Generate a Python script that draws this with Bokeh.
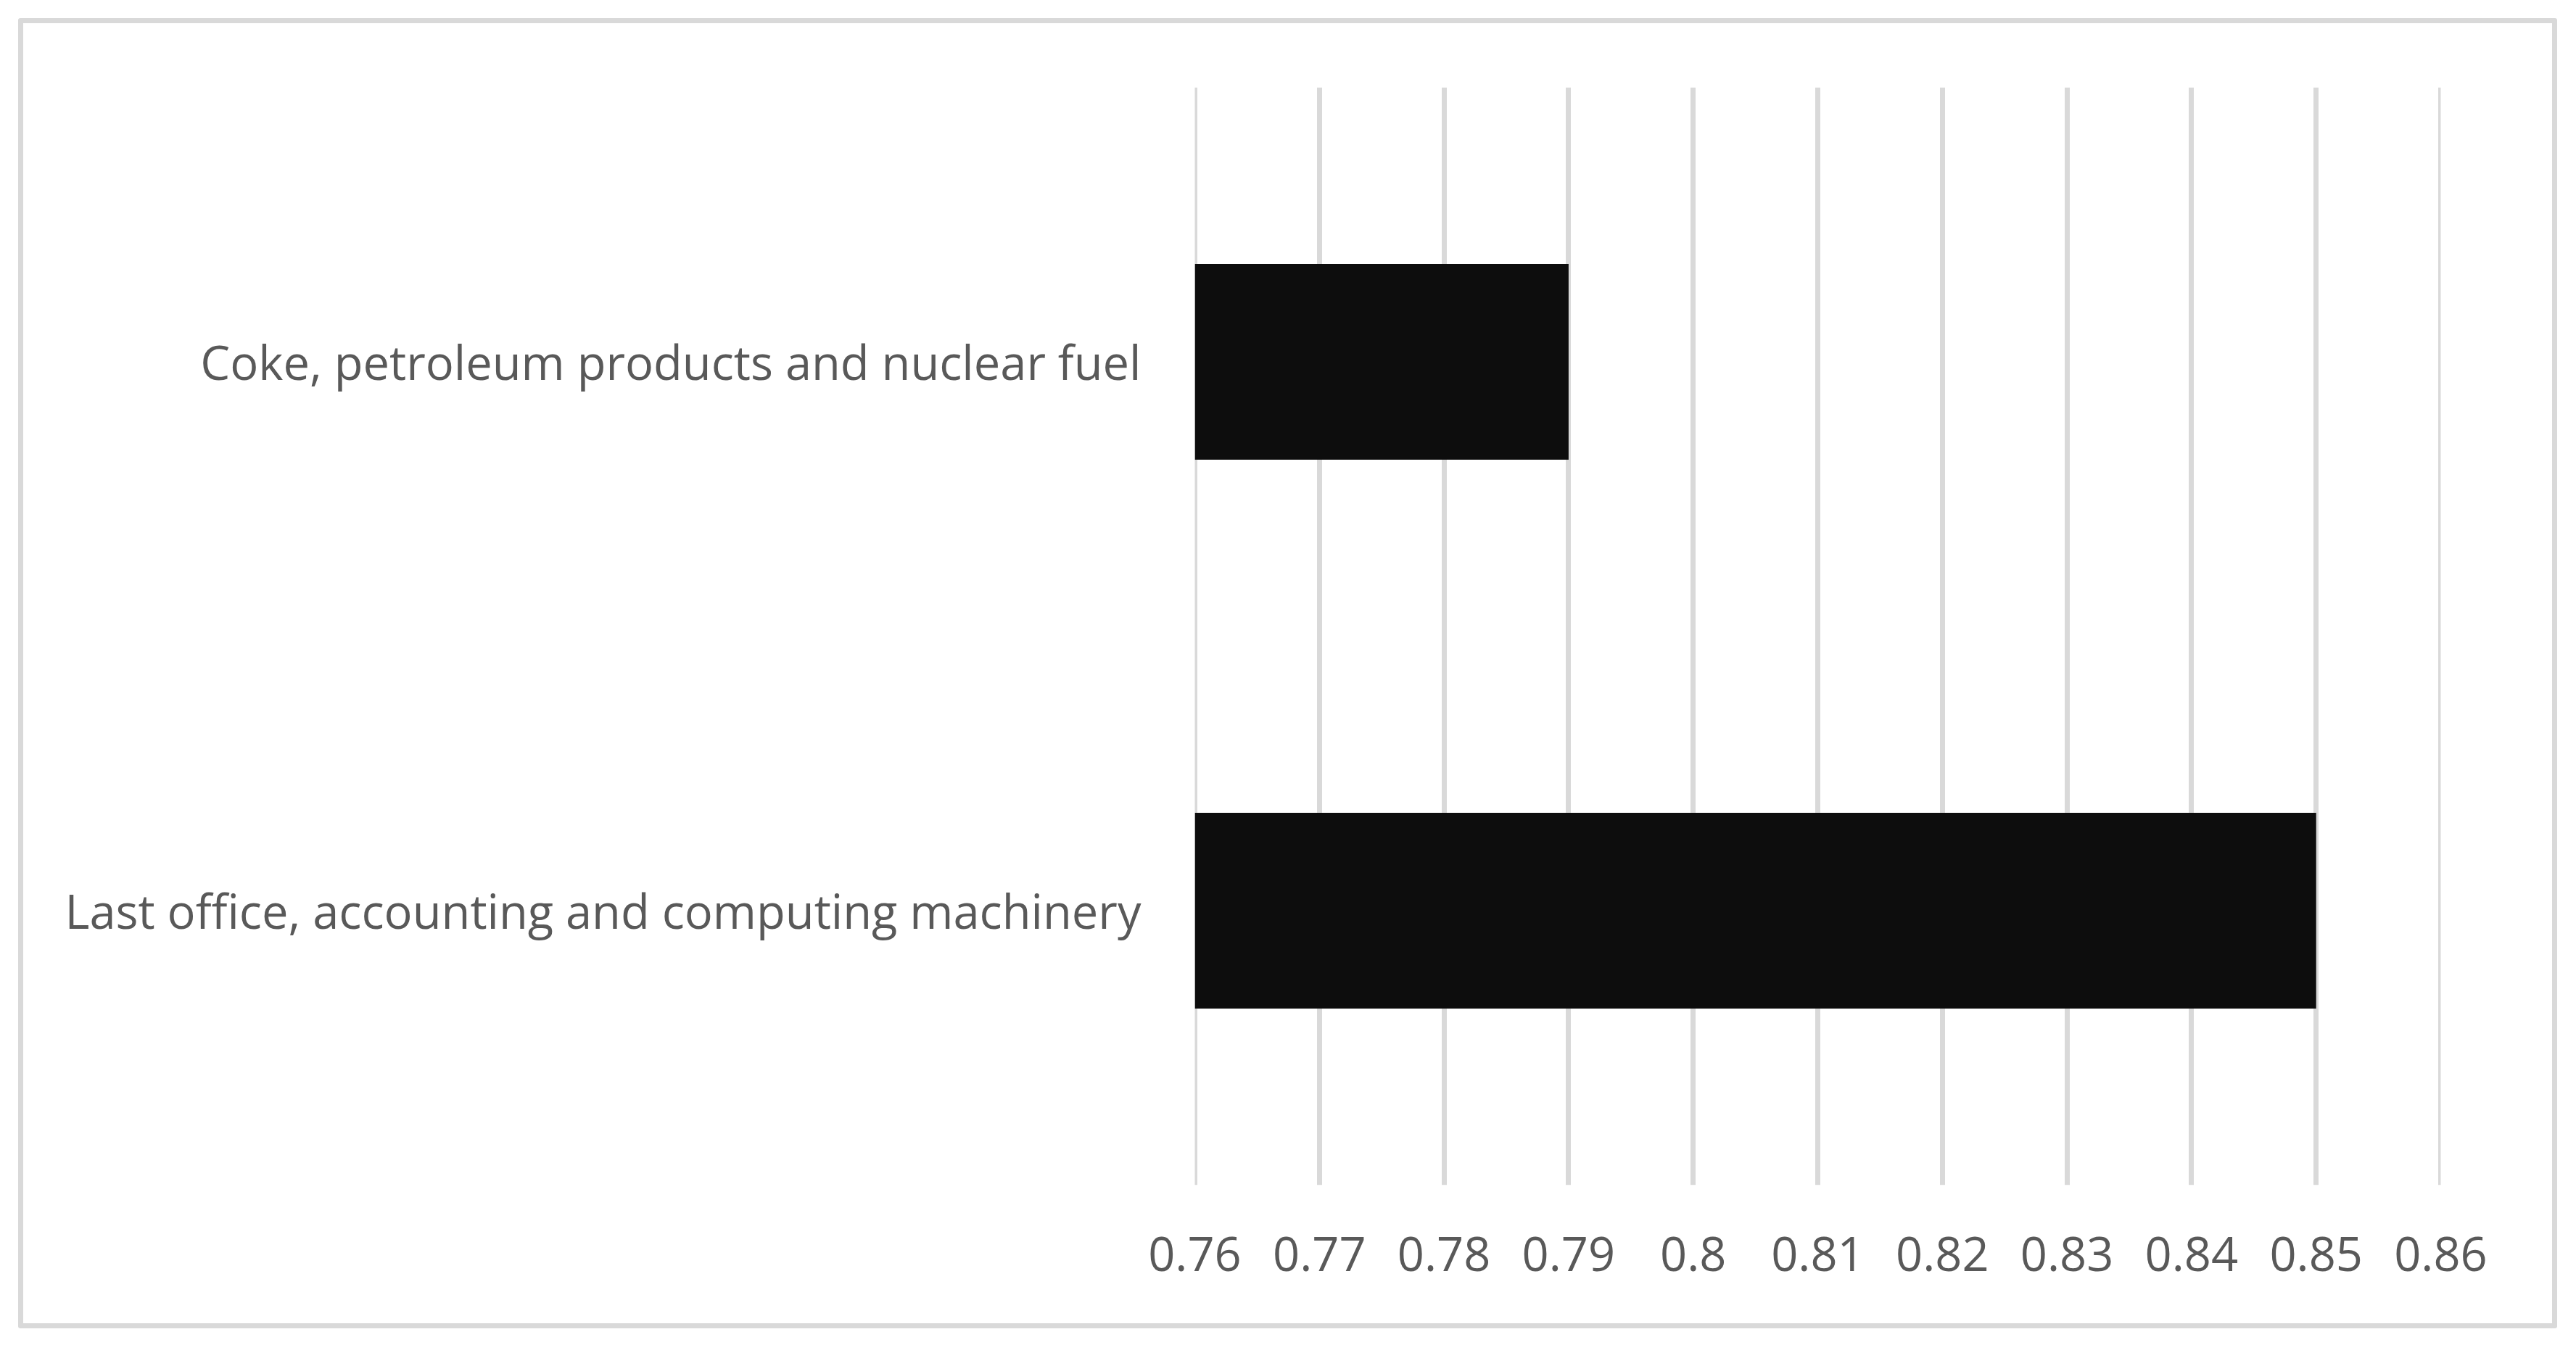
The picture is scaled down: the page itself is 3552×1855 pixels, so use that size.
from bokeh.plotting import figure
from bokeh.models import Range1d, FactorRange, FixedTicker
from bokeh.embed import file_html
from bokeh.resources import INLINE

# ---- data ----
categories = [
    "Last office, accounting and computing machinery",
    "Coke, petroleum products and nuclear fuel",
]
values = [0.85, 0.79]
axis_min = 0.76
axis_max = 0.86
tick_values = [0.76, 0.77, 0.78, 0.79, 0.8, 0.81, 0.82, 0.83, 0.84, 0.85, 0.86]
tick_labels = ["0.76", "0.77", "0.78", "0.79", "0.8", "0.81", "0.82", "0.83", "0.84", "0.85", "0.86"]

FONT = "Open Sans"
TEXT_COLOR = "#595959"
GRID_COLOR = "#d9d9d9"
EPS = 1e-7

p = figure(
    width=3501, height=1807,
    y_range=FactorRange(factors=categories),
    x_range=Range1d(axis_min - EPS, axis_max + EPS),
    output_backend="svg", toolbar_location=None,
    min_border_left=1615, min_border_right=168,
    min_border_top=88, min_border_bottom=205,
    styles={"border": "7px solid #d9d9d9", "margin-left": "25px", "margin-top": "25px",
            "border-radius": "3px"},
)

p.hbar(y=categories, left=[axis_min] * len(values), right=values,
       height=0.357, fill_color="#0d0d0d", line_color=None)

p.outline_line_color = None
p.background_fill_color = "white"
p.border_fill_color = "white"

p.xgrid.ticker = FixedTicker(ticks=tick_values)
p.xgrid.grid_line_color = GRID_COLOR
p.xgrid.grid_line_width = 7
p.ygrid.grid_line_color = None
p.xgrid.level = "underlay"

p.xaxis.ticker = FixedTicker(ticks=tick_values)
p.xaxis.major_label_overrides = {t: l for t, l in zip(tick_values, tick_labels)}
for ax in (p.xaxis, p.yaxis):
    ax.axis_line_color = None
    ax.major_tick_line_color = None
    ax.minor_tick_line_color = None
    ax.major_label_text_font = FONT
    ax.major_label_text_font_size = "65px"
    ax.major_label_text_color = TEXT_COLOR
p.xaxis.major_label_standoff = 65
p.yaxis.major_label_standoff = 68

open("out.html", "w").write(file_html(p, INLINE))
